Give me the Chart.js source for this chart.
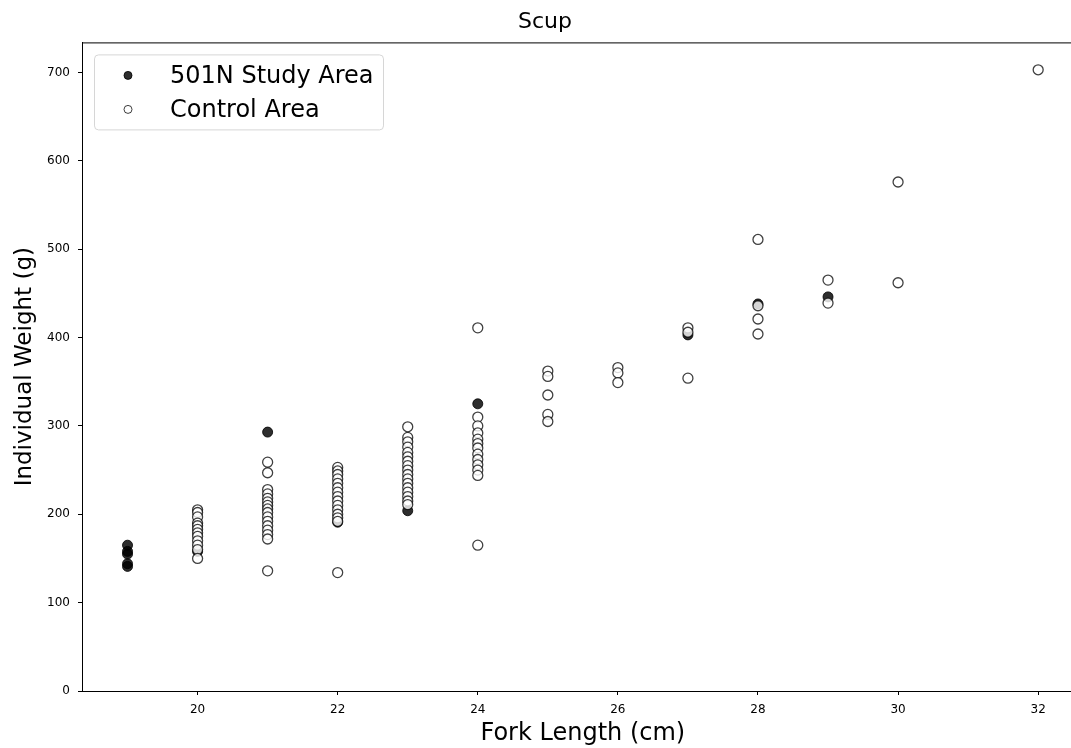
<!DOCTYPE html>
<html>
<head>
<meta charset="utf-8">
<script src="https://cdn.jsdelivr.net/npm/chart.js@4"></script>
<style>
  html, body { margin: 0; padding: 0; background: #fff; overflow: hidden; }
  #wrap { width: 1090px; height: 748px; }
</style>
</head>
<body>
<div id="wrap"><canvas id="scup"></canvas></div>
<script>
// fork length (cm) / weight (g)
const studyLength = [19, 19, 19, 19, 19, 20, 21, 22, 23, 24, 27, 28, 29];
const studyWeight = [165, 158, 155, 144, 141, 158, 293, 191, 204, 325, 403, 438, 446];

const controlLength = [
    20, 20, 20, 20, 20, 20, 20, 20, 20, 20, 20, 20,
    21, 21, 21, 21, 21, 21, 21, 21, 21, 21, 21, 21, 21, 21, 21, 21,
    22, 22, 22, 22, 22, 22, 22, 22, 22, 22, 22, 22, 22, 22, 22,
    23, 23, 23, 23, 23, 23, 23, 23, 23, 23, 23, 23, 23, 23, 23, 23, 23,
    24, 24, 24, 24, 24, 24, 24, 24, 24, 24, 24, 24, 24,
    25, 25, 25, 25, 25,
    26, 26, 26,
    27, 27, 27,
    28, 28, 28, 28,
    29, 29,
    30, 30,
    32
];
const controlWeight = [
    205, 202, 197, 190, 187, 183, 179, 175, 170, 165, 160, 150,
    259, 247, 228, 223, 218, 214, 210, 206, 202, 197, 192, 187, 182, 177, 172, 136,
    253, 249, 245, 240, 235, 230, 225, 220, 215, 210, 205, 200, 196, 192, 134,
    299, 287, 282, 276, 270, 265, 260, 255, 250, 245, 240, 235, 230, 225, 220, 215, 211,
    411, 310, 300, 292, 285, 280, 275, 268, 262, 256, 250, 244, 165,
    362, 356, 335, 313, 305,
    366, 360, 349,
    411, 406, 354,
    511, 436, 421, 404,
    465, 439,
    576, 462,
    703
];

const seriesNames = ['501N Study Area', 'Control Area'];
const xTicks = [20, 22, 24, 26, 28, 30, 32];
const yTicks = [0, 100, 200, 300, 400, 500, 600, 700];

const FONT = "'DejaVu Sans', sans-serif";

function toPoints(xs, ys) {
    return xs.map((x, i) => ({ x: x, y: ys[i] }));
}

// top/right spines
const frame = {
    id: 'frame',
    afterDatasetsDraw(chart) {
        const a = chart.chartArea, c = chart.ctx;
        c.save();
        c.strokeStyle = '#000';
        c.lineWidth = 1;
        c.strokeRect(a.left + 0.5, a.top + 0.5, a.right - a.left, a.bottom - a.top);
        c.restore();
    }
};

// legend box in the upper left of the plot
const boxLegend = {
    id: 'boxLegend',
    afterDraw(chart) {
        const a = chart.chartArea, c = chart.ctx;
        const x0 = a.left + 12, y0 = a.top + 12, w = 289, h = 75;
        c.save();
        c.fillStyle = 'rgba(255,255,255,0.8)';
        c.strokeStyle = '#d6d6d6';
        c.lineWidth = 1;
        c.beginPath();
        c.roundRect(x0 + 0.5, y0 + 0.5, w, h, 4);
        c.fill();
        c.stroke();
        c.font = '24px ' + FONT;
        c.textBaseline = 'middle';
        chart.data.datasets.forEach((ds, i) => {
            const cy = y0 + 21 + i * 34;
            c.beginPath();
            c.arc(x0 + 34, cy, 4, 0, Math.PI * 2);
            c.fillStyle = ds.backgroundColor;
            c.fill();
            c.lineWidth = 1;
            c.strokeStyle = ds.borderColor;
            c.stroke();
            c.fillStyle = '#000';
            c.fillText(ds.label, x0 + 76, cy + 1);
        });
        c.restore();
    }
};

new Chart(document.getElementById('scup'), {
    type: 'scatter',
    data: {
        datasets: [{
            label: seriesNames[0],
            data: toPoints(studyLength, studyWeight),
            backgroundColor: 'rgba(0,0,0,0.82)',
            borderColor: 'rgba(0,0,0,0.82)',
            borderWidth: 1,
            pointRadius: 5,
            order: 1
        }, {
            label: seriesNames[1],
            data: toPoints(controlLength, controlWeight),
            backgroundColor: 'rgba(255,255,255,0.8)',
            borderColor: 'rgba(0,0,0,0.75)',
            borderWidth: 1.3,
            pointRadius: 5,
            order: 0
        }]
    },
    options: {
        responsive: true,
        maintainAspectRatio: false,
        animation: false,
        events: [],
        layout: { padding: 0 },
        plugins: {
            legend: { display: false },
            tooltip: { enabled: false },
            title: {
                display: true,
                text: 'Scup',
                color: '#000',
                font: { family: FONT, size: 22, weight: 'normal' },
                padding: { top: 9, bottom: 7 }
            }
        },
        scales: {
            x: {
                type: 'linear',
                min: 18.35,
                max: 32.65,
                afterBuildTicks(axis) { axis.ticks = xTicks.map(v => ({ value: v })); },
                afterFit(axis) { axis.height = 57; },
                grid: { drawOnChartArea: false, drawTicks: true, tickLength: 4, color: '#000' },
                border: { display: true, color: '#000' },
                ticks: { color: '#000', font: { family: FONT, size: 12 }, padding: 8, maxRotation: 0 },
                title: {
                    display: true,
                    text: 'Fork Length (cm)',
                    color: '#000',
                    font: { family: FONT, size: 24 },
                    padding: { top: 0, bottom: 0 }
                }
            },
            y: {
                type: 'linear',
                min: 0,
                max: 734,
                afterBuildTicks(axis) { axis.ticks = yTicks.map(v => ({ value: v })); },
                afterFit(axis) { axis.width = 82; },
                grid: { drawOnChartArea: false, drawTicks: true, tickLength: 4, color: '#000' },
                border: { display: true, color: '#000' },
                ticks: { color: '#000', font: { family: FONT, size: 12 }, padding: 8 },
                title: {
                    display: true,
                    text: 'Individual Weight (g)',
                    color: '#000',
                    font: { family: FONT, size: 23 },
                    padding: { top: 11, bottom: 0 }
                }
            }
        }
    },
    plugins: [frame, boxLegend]
});
</script>
</body>
</html>
